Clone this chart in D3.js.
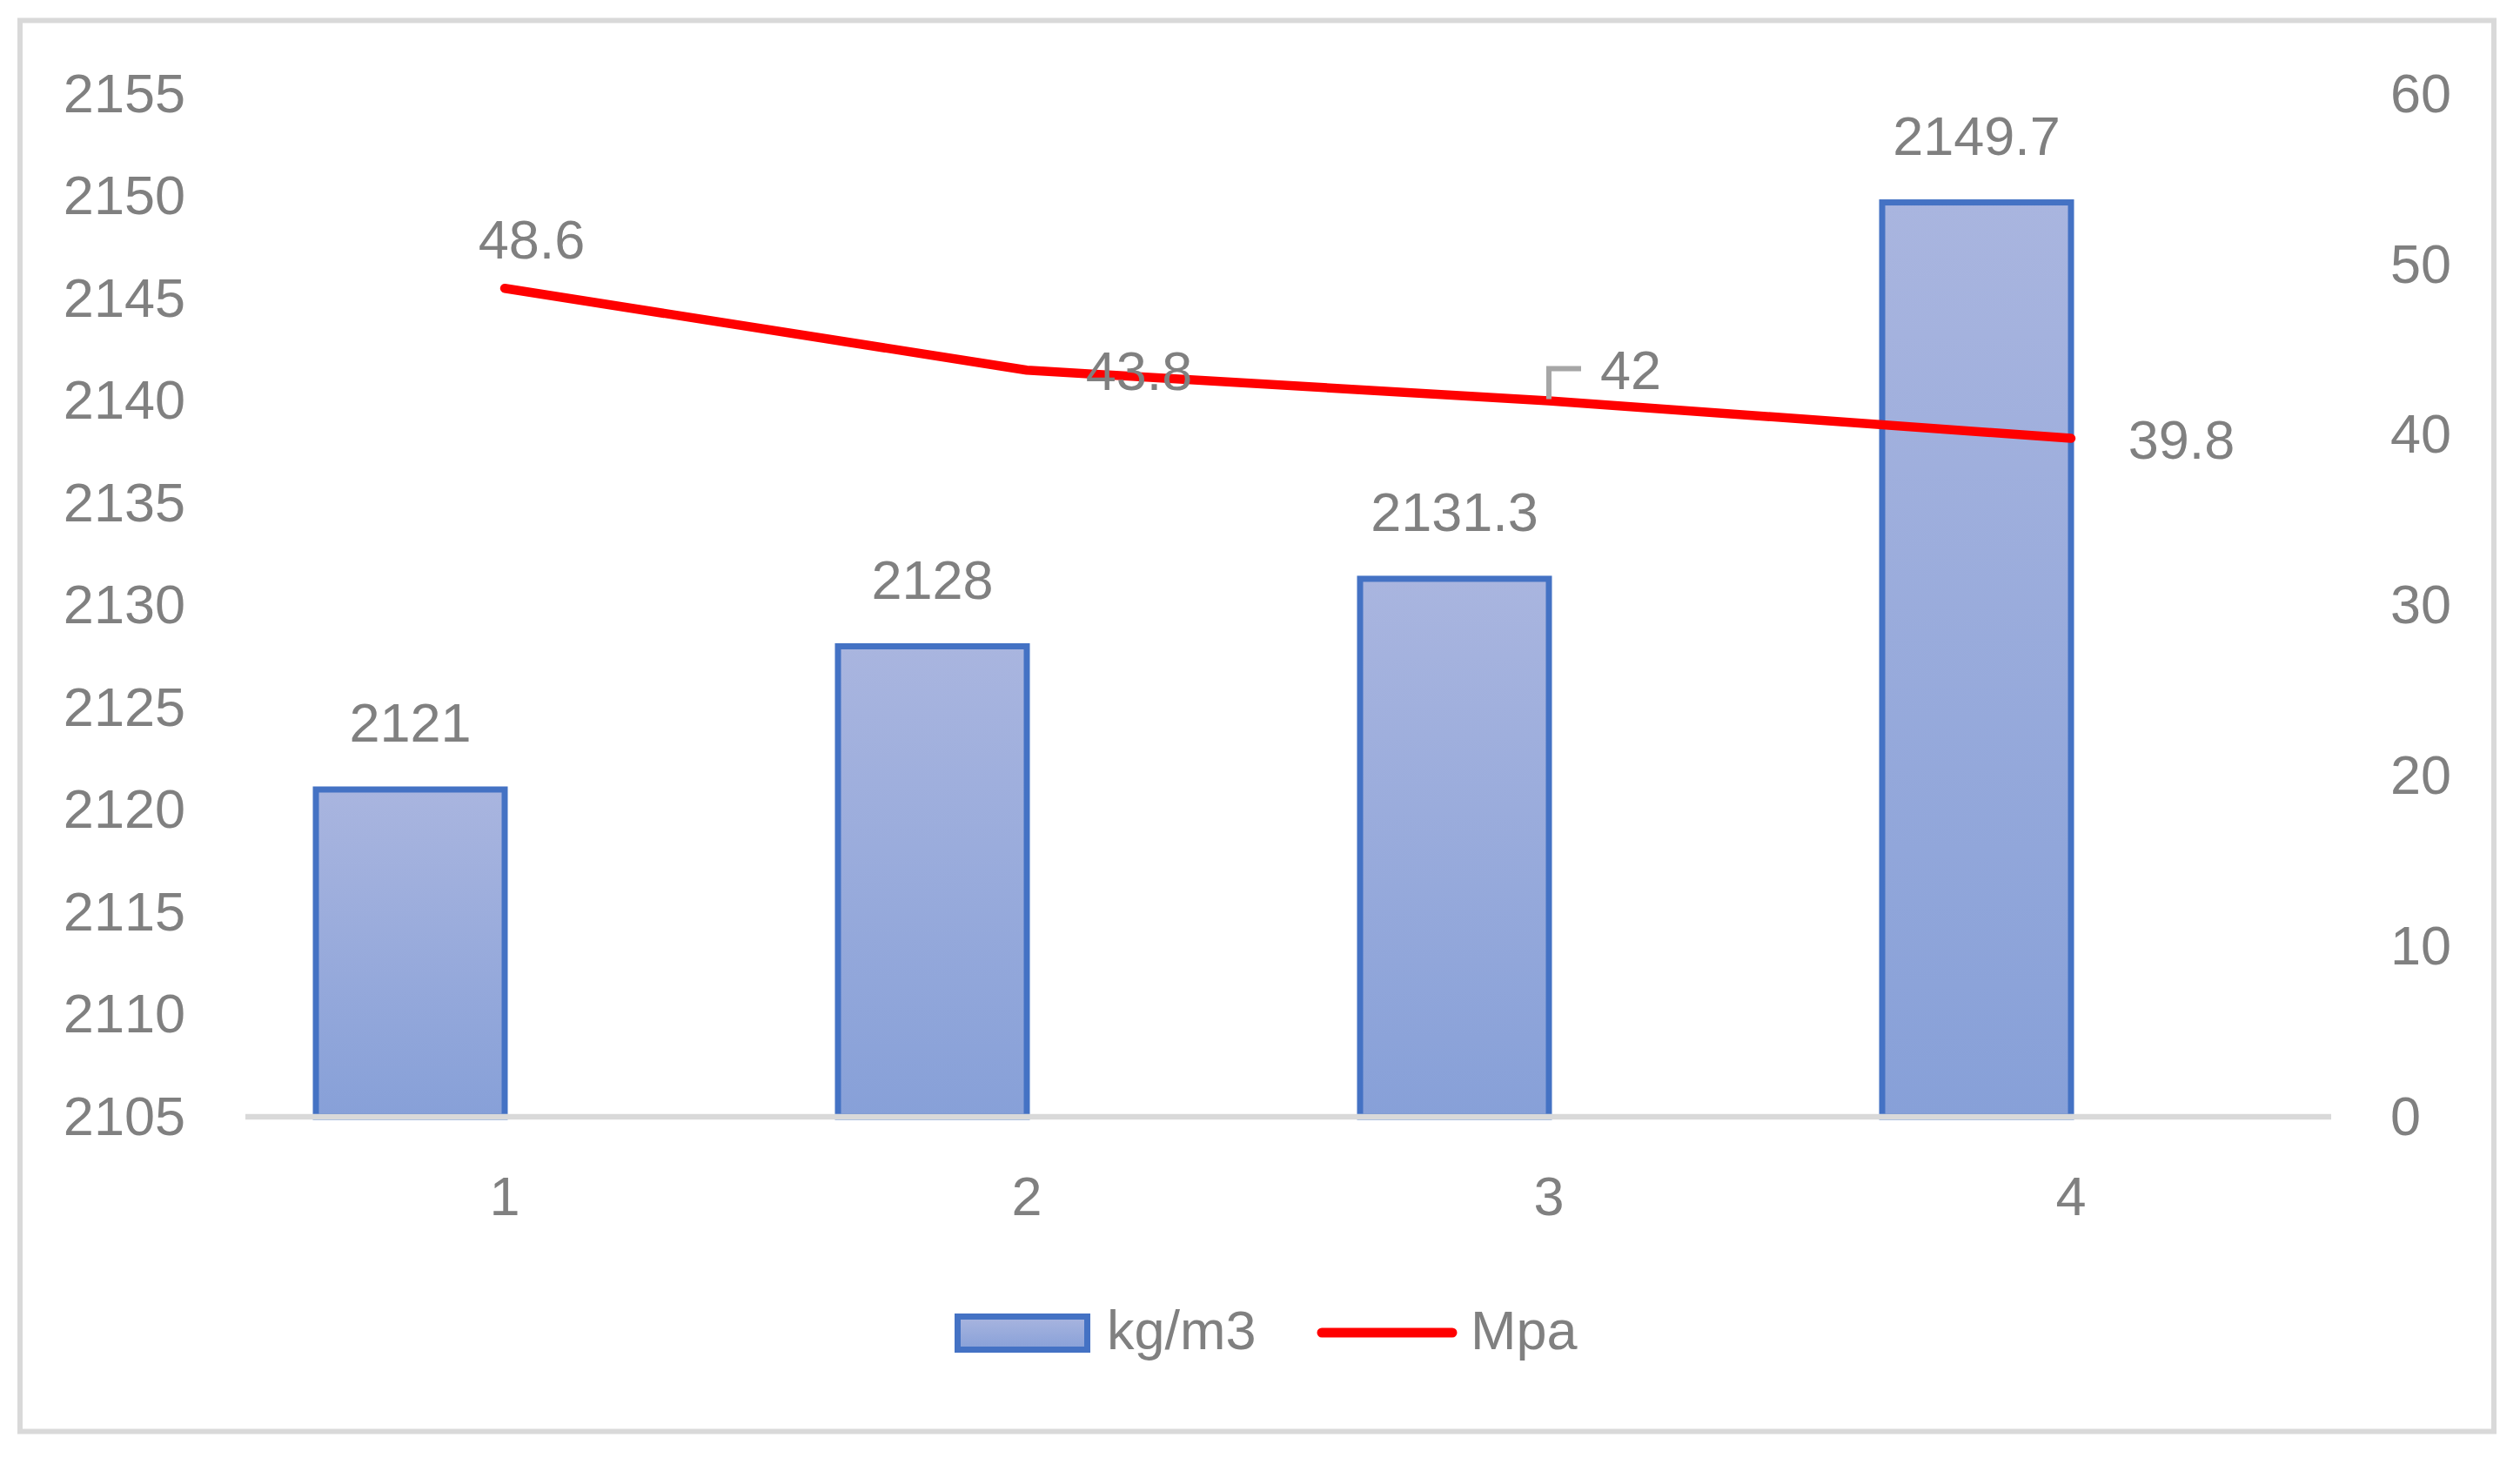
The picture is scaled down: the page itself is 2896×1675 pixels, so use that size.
<!DOCTYPE html>
<html>
<head>
<meta charset="utf-8">
<script src="https://cdn.jsdelivr.net/npm/d3@7"></script>
<style>
  html, body { margin: 0; padding: 0; background: #ffffff; }
  svg { display: block; }
  text { font-family: "Liberation Sans", Arial, sans-serif; fill: #808080; font-kerning: none; }
</style>
</head>
<body>
<svg id="chart" width="2896" height="1675"></svg>
<script>
// ---- data ----
const categories = ["1", "2", "3", "4"];
const density = [2121, 2128, 2131.3, 2149.7];      // kg/m3 (bars, left axis)
const strength = [48.6, 43.8, 42, 39.8];            // Mpa (line, right axis)
const leftTicks = [2105, 2110, 2115, 2120, 2125, 2130, 2135, 2140, 2145, 2150, 2155];
const rightTicks = [0, 10, 20, 30, 40, 50, 60];
const seriesNames = ["kg/m3", "Mpa"];

// ---- layout ----
const W = 2896, H = 1675;
const plot = { left: 280, right: 2680, top: 108, bottom: 1283 };
const fontSize = 63;
const barW = 217;
// label placement relative to each line point [dx, dy(baseline)]
const lineLabelOffset = [[31, -34], [129, 23], [94, -14], [127, 23]];

const svg = d3.select("#chart");

// frame
svg.append("rect")
  .attr("x", 23).attr("y", 23.5).attr("width", 2843).attr("height", 1621)
  .attr("fill", "#ffffff").attr("stroke", "#d9d9d9").attr("stroke-width", 6);

// gradient
const defs = svg.append("defs");
const grad = defs.append("linearGradient").attr("id", "barGrad")
  .attr("x1", 0).attr("y1", 0).attr("x2", 0).attr("y2", 1);
grad.append("stop").attr("offset", "0%").attr("stop-color", "#a9b5df");
grad.append("stop").attr("offset", "100%").attr("stop-color", "#87a0d8");

// scales
const x = d3.scaleBand().domain(categories).range([plot.left, plot.right]).padding(0);
const yL = d3.scaleLinear().domain([2105, 2155]).range([plot.bottom, plot.top]);
const yR = d3.scaleLinear().domain([0, 60]).range([plot.bottom, plot.top]);
const cx = c => x(c) + x.bandwidth() / 2;

// left axis
const gL = svg.append("g").attr("transform", `translate(${plot.left},0)`)
  .call(d3.axisLeft(yL).tickValues(leftTicks).tickSize(0).tickPadding(67).tickFormat(d3.format("d")));
gL.select(".domain").remove();
gL.selectAll("text").attr("font-size", fontSize).attr("fill", "#808080")
  .attr("font-family", "Liberation Sans, Arial, sans-serif").attr("dy", "0.32em");

// right axis
const gR = svg.append("g").attr("transform", `translate(${plot.right},0)`)
  .call(d3.axisRight(yR).tickValues(rightTicks).tickSize(0).tickPadding(67).tickFormat(d3.format("d")));
gR.select(".domain").remove();
gR.selectAll("text").attr("font-size", fontSize).attr("fill", "#808080")
  .attr("font-family", "Liberation Sans, Arial, sans-serif").attr("dy", "0.32em");

// bars
svg.append("g").selectAll("rect.bar")
  .data(categories.map((c, i) => ({ c, v: density[i] })))
  .join("rect").attr("class", "bar")
  .attr("x", d => cx(d.c) - barW)
  .attr("y", d => yL(d.v))
  .attr("width", barW)
  .attr("height", d => yL(2105) - yL(d.v))
  .attr("fill", "url(#barGrad)")
  .attr("stroke", "#4472c4").attr("stroke-width", 7);

// bottom axis
const gB = svg.append("g").attr("transform", `translate(0,${plot.bottom})`)
  .call(d3.axisBottom(x).tickSize(0).tickPadding(68));
gB.select(".domain").remove();
gB.selectAll("text").attr("font-size", fontSize).attr("fill", "#808080")
  .attr("font-family", "Liberation Sans, Arial, sans-serif");

// x axis line
svg.append("line")
  .attr("x1", plot.left + 2).attr("x2", plot.right - 1)
  .attr("y1", plot.bottom).attr("y2", plot.bottom)
  .attr("stroke", "#d9d9d9").attr("stroke-width", 6.5);

// bar labels
svg.append("g").selectAll("text")
  .data(categories.map((c, i) => ({ c, v: density[i] })))
  .join("text")
  .attr("x", d => cx(d.c) - barW / 2)
  .attr("y", d => yL(d.v) - 55)
  .attr("text-anchor", "middle")
  .attr("font-size", fontSize)
  .text(d => d.v);

// line
const linePts = categories.map((c, i) => ({ c, v: strength[i], i }));
svg.append("path")
  .datum(linePts)
  .attr("d", d3.line().x(d => cx(d.c)).y(d => yR(d.v)))
  .attr("fill", "none").attr("stroke", "#ff0000").attr("stroke-width", 10.5)
  .attr("stroke-linecap", "round").attr("stroke-linejoin", "round");

// leader line for third label
const p3 = linePts[2];
svg.append("path")
  .attr("d", `M${cx(p3.c)},${yR(p3.v) - 2} V${yR(p3.v) - 37} H${cx(p3.c) + 37}`)
  .attr("fill", "none").attr("stroke", "#a6a6a6").attr("stroke-width", 6);

// line labels
svg.append("g").selectAll("text")
  .data(linePts)
  .join("text")
  .attr("x", d => cx(d.c) + lineLabelOffset[d.i][0])
  .attr("y", d => yR(d.v) + lineLabelOffset[d.i][1])
  .attr("text-anchor", "middle")
  .attr("font-size", fontSize)
  .text(d => d.v);

// legend
const lg = svg.append("g");
lg.append("rect")
  .attr("x", 1100.5).attr("y", 1512.5).attr("width", 149).attr("height", 38)
  .attr("fill", "url(#barGrad)").attr("stroke", "#4472c4").attr("stroke-width", 7);
lg.append("text").attr("x", 1272).attr("y", 1550).attr("font-size", fontSize).text(seriesNames[0]);
lg.append("line")
  .attr("x1", 1519).attr("x2", 1669).attr("y1", 1531).attr("y2", 1531)
  .attr("stroke", "#ff0000").attr("stroke-width", 11).attr("stroke-linecap", "round");
lg.append("text").attr("x", 1690).attr("y", 1550).attr("font-size", fontSize).text(seriesNames[1]);
</script>
</body>
</html>
